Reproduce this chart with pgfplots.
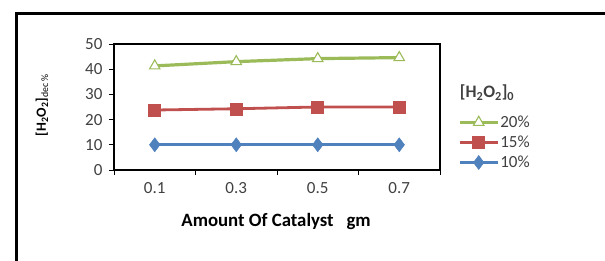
\documentclass[border=0pt]{standalone}
\usepackage{pgfplots}
\pgfplotsset{compat=1.18}
\usepackage{fontspec}
\setmainfont{Carlito}
\definecolor{exgreen}{HTML}{9BBB59}
\definecolor{exred}{HTML}{C0504D}
\definecolor{exblue}{HTML}{4F81BD}
\definecolor{txt}{HTML}{404040}
\begin{document}
\begin{tikzpicture}[x=1pt,y=1pt]
\path[use as bounding box] (0,0) rectangle (605,261);
\draw[line width=3pt] (16,0) -- (16,247) -- (605,247);
\begin{axis}[
  at={(114pt,91pt)}, anchor=south west,
  scale only axis, width=326pt, height=126pt,
  xmin=-0.5, xmax=3.5, ymin=0, ymax=50,
  ytick={0,10,20,30,40,50},
  xtick={-0.5,0.5,1.5,2.5,3.5},
  xticklabels={},
  extra x ticks={0,1,2,3},
  extra x tick labels={0.1,0.3,0.5,0.7},
  extra x tick style={major tick length=0pt},
  tick align=outside, major tick length=5pt,
  axis line style={line width=1.6pt, black},
  every tick/.style={black, line width=0.8pt},
  xtick pos=bottom, ytick pos=left,
  ticklabel style={font=\fontsize{17}{19}\selectfont, text=txt},
  /pgf/number format/assume math mode=true,
  xticklabel style={yshift=-9pt},
  yticklabel style={xshift=-3pt},
  xlabel={\textbf{Amount Of Catalyst\ \ \ gm}},
  xlabel style={font=\fontsize{18.8}{20}\selectfont, at={(axis description cs:0.497,-0.41)}, anchor=center},
  legend image code/.code={\draw[mark repeat=2,mark phase=2,#1] plot coordinates {(0pt,0pt)(19pt,0pt)(38pt,0pt)};},
  legend style={at={(axis description cs:1.055,0.44)}, anchor=north west, draw=none, fill=none,
    font=\fontsize{17}{19}\selectfont, row sep=5pt, inner sep=0pt,
    nodes={inner sep=1pt, text=txt}},
  legend cell align=left,
  clip=false,
]
\addplot[exgreen, line width=3.2pt, mark=triangle*, mark size=6pt,
  mark options={fill=white, draw=exgreen, line width=1.1pt, solid}]
  coordinates {(0,41.3) (1,43.0) (2,44.2) (3,44.6)};
\addlegendentry{20\%}
\addplot[exred, line width=2.8pt, mark=square*, mark size=6pt,
  mark options={fill=exred, draw=exred, line width=0.5pt}]
  coordinates {(0,23.8) (1,24.3) (2,25.0) (3,25.0)};
\addlegendentry{15\%}
\addplot[exblue, line width=2.8pt, mark=diamond*, mark size=7pt,
  mark options={fill=exblue, draw=exblue, line width=0.5pt}]
  coordinates {(0,10) (1,10) (2,10) (3,10)};
\addlegendentry{10\%}
\node[anchor=west, font=\fontsize{17.5}{20}\selectfont\bfseries, text=txt]
  at (axis description cs:1.05,0.615) {[H\textsubscript{2}O\textsubscript{2}]\textsubscript{0}};
\node[rotate=90, anchor=center, font=\fontsize{14}{16}\selectfont, text=black]
  at (axis description cs:-0.221,0.516) {\textbf{[H\textsubscript{2}O\textsubscript{2}]}\textsubscript{dec \%}};
\end{axis}
\end{tikzpicture}
\end{document}
